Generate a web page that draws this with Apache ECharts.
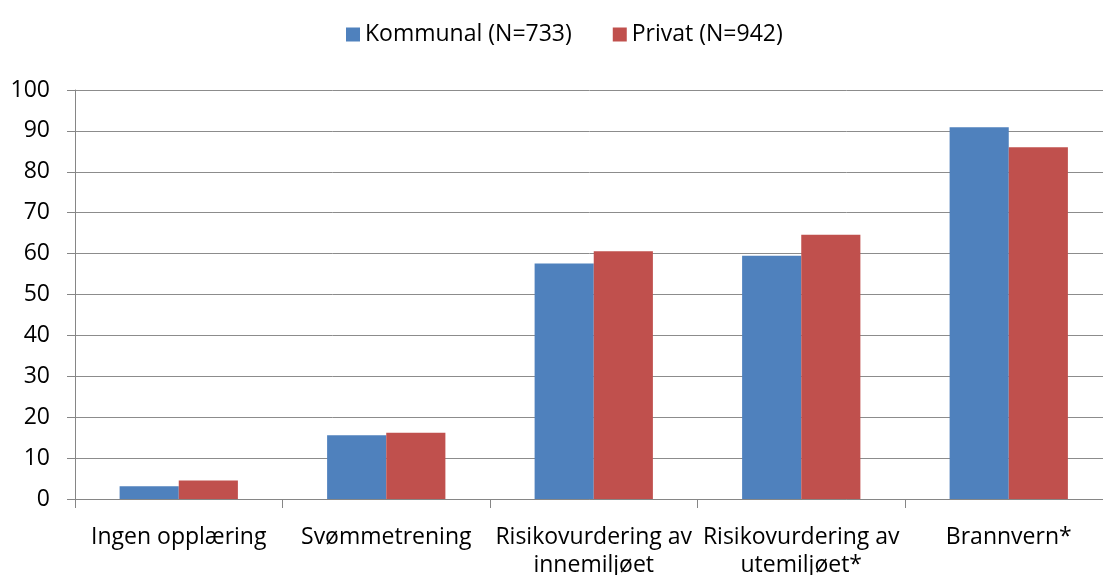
<!DOCTYPE html>
<html>
<head>
<meta charset="utf-8">
<script src="https://cdn.jsdelivr.net/npm/echarts@6/dist/echarts.min.js"></script>
<style>
  html, body { margin: 0; padding: 0; background: #fff; }
  #chart { width: 1103px; height: 575px; }
</style>
</head>
<body>
<div id="chart"></div>
<script>
const categories = [
  'Ingen opplæring',
  'Svømmetrening',
  'Risikovurdering av\ninnemiljøet',
  'Risikovurdering av\nutemiljøet*',
  'Brannvern*'
]
const kommunal = [3.1, 15.6, 57.6, 59.5, 90.9]
const privat = [4.5, 16.2, 60.6, 64.6, 86.0]
const seriesNames = ['Kommunal (N=733)', 'Privat (N=942)']

const font = 'Open Sans'
const myChart = echarts.init(document.getElementById('chart'))
const option = {
  animation: false,
  textStyle: { fontFamily: font },
  legend: {
    top: 18,
    left: 341,
    itemWidth: 14,
    itemHeight: 14,
    itemGap: 41,
    icon: 'rect',
    textStyle: { fontSize: 23, color: '#000', fontFamily: font },
    data: seriesNames
  },
  grid: {
    left: 75,
    top: 90,
    right: -9.5,
    bottom: 76,
    containLabel: false,
    outerBoundsMode: 'none'
  },
  xAxis: {
    type: 'category',
    data: categories,
    axisLine: { lineStyle: { color: '#868686', width: 1 } },
    axisTick: { show: true, length: 9, lineStyle: { color: '#868686' } },
    axisLabel: {
      interval: 0,
      margin: 24,
      fontSize: 23,
      lineHeight: 28,
      color: '#000',
      fontFamily: font
    }
  },
  yAxis: {
    type: 'value',
    min: 0,
    max: 100,
    interval: 10,
    axisLine: { show: true, lineStyle: { color: '#868686', width: 1 } },
    axisTick: { show: true, length: 8, lineStyle: { color: '#868686' } },
    splitLine: { lineStyle: { color: '#8c8c8c', width: 1 } },
    axisLabel: {
      margin: 25,
      fontSize: 23,
      color: '#000',
      fontFamily: font
    }
  },
  series: [
    {
      name: seriesNames[0],
      type: 'bar',
      data: kommunal,
      barGap: '0%',
      barCategoryGap: '43%',
      itemStyle: { color: '#4F81BD' }
    },
    {
      name: seriesNames[1],
      type: 'bar',
      data: privat,
      itemStyle: { color: '#C0504D' }
    }
  ]
}
myChart.setOption(option)
</script>
</body>
</html>
